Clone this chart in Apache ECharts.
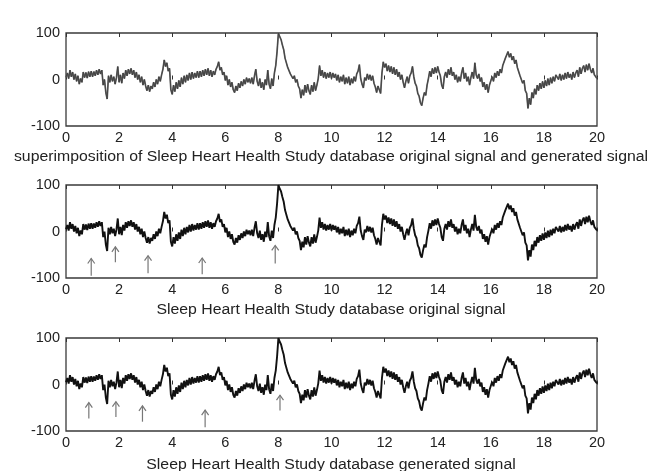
<!DOCTYPE html>
<html>
<head>
<meta charset="utf-8">
<script src="https://cdn.jsdelivr.net/npm/echarts@6/dist/echarts.min.js"></script>
<style>
  html, body { margin: 0; padding: 0; background: #fff; }
  #chart { width: 650px; height: 471px; }
</style>
</head>
<body>
<div id="chart"></div>
<script>
// muestreo cada 0.05 s, de 0 a 20 s
const sampleStep = 0.05;

// señal original (una fila por segundo)
const originalSignal = [
  5, 14, 2, 20, 6, 16, 0, 12, -4, 8, -10, 2, -6, 16, 4, 15, 3, 17, 6, 18,
  6, 17, 8, 20, 10, 22, 12, 20, -12, 0, -28, -42, 8, -6, 10, -4, 6, -10, 4, 28,
  -6, 10, -8, 14, 2, 20, 8, 22, 12, 24, 10, 20, 4, 16, 0, 10, -6, 6, -12, 0,
  -14, -24, -12, -26, -14, -20, -6, -16, 0, -10, 6, -4, 10, 22, 42, 28, 36, 18, 24, -22,
  -32, -12, -26, -6, -20, -2, -16, 4, -10, 8, -6, 10, -2, 14, 0, 16, 2, 14, 4, 18,
  4, 18, 6, 20, 8, 22, 10, 24, 8, 20, 6, 18, 10, 22, 28, 38, 20, 26, 10, 16,
  -2, 8, -12, 0, -16, -6, -22, -28, -14, -24, -8, -18, -4, -14, 0, -10, 4, -6, 2, -8,
  4, -10, 8, 22, -4, -14, 2, -18, -6, -22, 0, -12, 20, -10, -20, 2, -14, 14, 30, 60,
  100, 92, 86, 74, 64, 46, 42, 26, 22, 12, 16, 2, 8, -6, 0, -14, -20, -40, -22, -34,
  -12, -28, -10, -24, -32, -12, -26, -6, -24, -12, 2, 30, 8, 20, 4, 16, 2, 14, 4, 16,
  2, 14, 4, 12, -2, 10, -6, 6, -4, 10, -10, 4, -8, 6, -12, 2, -8, 6, -4, 12,
  18, 32, 2, -10, -18, 4, -2, 12, 0, 10, -2, 8, -8, -16, -28, -14, -22, -30, 14, 38,
  26, 34, 18, 30, 16, 28, 12, 26, 10, 22, 6, 16, 0, 10, -6, -18, -4, 6, -8, 8,
  14, 28, 6, -8, -14, -30, -36, -50, -56, -40, -28, -34, -12, 2, 18, 6, 24, 12, 26, 14,
  28, 16, 8, -12, -20, 6, 16, 4, 22, 10, 26, 8, 16, 0, 10, -6, 6, -4, 14, 26,
  2, 14, -4, 6, -12, 4, 16, 2, 36, 10, 2, 12, -4, 4, -16, -6, -22, -10, -28, -12,
  -8, 6, -4, 14, 4, 18, 8, 22, 14, 30, 32, 46, 48, 60, 48, 56, 42, 50, 34, 42,
  26, 30, 8, 12, -8, -2, -24, -30, -62, -40, -54, -28, -40, -20, -32, -12, -24, -8, -20, -4,
  -18, -2, -14, 2, -12, 4, -8, 6, -4, 10, 14, 0, 12, -2, 10, 0, 14, 2, 16, 4,
  12, 0, 16, 4, 14, 20, 6, 26, 12, 24, 30, 16, 32, 20, 34, 22, 14, 24, 10, 12,
  2
];

// la señal generada coincide con la original a esta resolucion
const generatedSignal = originalSignal.slice();

// flechas del panel de la señal original (tiempo, punta, cola)
const arrowTimeOrig = [0.95, 1.86, 3.09, 5.13, 7.88];
const arrowTipOrig = [-58, -33, -52, -57, -30];
const arrowTailOrig = [-95, -66, -90, -92, -69];

// flechas del panel de la señal generada
const arrowTimeGen = [0.86, 1.88, 2.88, 5.24, 8.06];
const arrowTipGen = [-39, -37, -46, -55, -23];
const arrowTailGen = [-73, -70, -80, -92, -56];

const panelTitles = [
  'superimposition of Sleep Heart Health Study database original signal and generated signal',
  'Sleep Heart Health Study database original signal',
  'Sleep Heart Health Study database generated signal'
];

const toPairs = arr => arr.map((v, i) => [+(i * sampleStep).toFixed(2), v]);
const toArrows = (t, tip, tail) => t.map((x, i) => [x, tip[i], tail[i]]);

const FONT = '"Liberation Sans", Arial, sans-serif';
const gridTops = [33, 185, 338];
const titleY = [157, 310, 465];

const chart = echarts.init(document.getElementById('chart'));

const grids = gridTops.map(top => ({
  left: 66, top: top, width: 531, height: 93,
  show: true, borderColor: '#3a3a3a', borderWidth: 1.3, backgroundColor: 'transparent'
}));

const xAxes = [];
const yAxes = [];
gridTops.forEach((top, i) => {
  xAxes.push({
    gridIndex: i, type: 'value', min: 0, max: 20, interval: 2,
    axisLine: { show: false },
    axisTick: { inside: true, length: 4, lineStyle: { color: '#333' } },
    axisLabel: { color: '#222', fontSize: 14.5, margin: 4, fontFamily: FONT },
    splitLine: { show: false }
  });
  xAxes.push({
    gridIndex: i, type: 'value', min: 0, max: 20, interval: 2, position: 'top',
    axisLine: { show: false },
    axisTick: { inside: true, length: 4, lineStyle: { color: '#333' } },
    axisLabel: { show: false },
    splitLine: { show: false }
  });
  yAxes.push({
    gridIndex: i, type: 'value', min: -100, max: 100, interval: 100,
    axisLine: { show: false },
    axisTick: { show: false },
    axisLabel: { color: '#222', fontSize: 14.5, margin: 6, fontFamily: FONT },
    splitLine: { show: false }
  });
});

// titulos de cada panel (texto un poco ensanchado como en la figura)
const titles = panelTitles.map((txt, i) => ({
  type: 'text', x: 331, y: titleY[i], scaleX: 1.13,
  style: { text: txt, fill: '#222', font: '14px "Liberation Sans", Arial, sans-serif', textAlign: 'center', textVerticalAlign: 'middle' }
}));

function renderArrow(params, api) {
  const tip = api.coord([api.value(0), api.value(1)]);
  const tail = api.coord([api.value(0), api.value(2)]);
  const st = { stroke: '#777', lineWidth: 1.2, fill: null };
  return {
    type: 'group',
    children: [
      { type: 'line', shape: { x1: tail[0], y1: tail[1], x2: tip[0], y2: tip[1] }, style: st },
      { type: 'polyline', shape: { points: [[tip[0] - 3.5, tip[1] + 5], tip, [tip[0] + 3.5, tip[1] + 5]] }, style: st }
    ]
  };
}

const lineBase = { type: 'line', showSymbol: false, symbol: 'none', animation: false, clip: true };

chart.setOption({
  animation: false,
  backgroundColor: '#fff',
  grid: grids,
  xAxis: xAxes,
  yAxis: yAxes,
  graphic: titles,
  series: [
    Object.assign({}, lineBase, { xAxisIndex: 0, yAxisIndex: 0, data: toPairs(originalSignal), lineStyle: { color: '#666', width: 1.7 } }),
    Object.assign({}, lineBase, { xAxisIndex: 0, yAxisIndex: 0, data: toPairs(generatedSignal), lineStyle: { color: '#3c3c3c', width: 0.8 } }),
    Object.assign({}, lineBase, { xAxisIndex: 2, yAxisIndex: 1, data: toPairs(originalSignal), lineStyle: { color: '#111', width: 1.9 } }),
    Object.assign({}, lineBase, { xAxisIndex: 4, yAxisIndex: 2, data: toPairs(generatedSignal), lineStyle: { color: '#111', width: 1.9 } }),
    { type: 'custom', xAxisIndex: 2, yAxisIndex: 1, renderItem: renderArrow, data: toArrows(arrowTimeOrig, arrowTipOrig, arrowTailOrig), silent: true },
    { type: 'custom', xAxisIndex: 4, yAxisIndex: 2, renderItem: renderArrow, data: toArrows(arrowTimeGen, arrowTipGen, arrowTailGen), silent: true }
  ]
});

window.addEventListener('resize', () => chart.resize());
</script>
</body>
</html>
